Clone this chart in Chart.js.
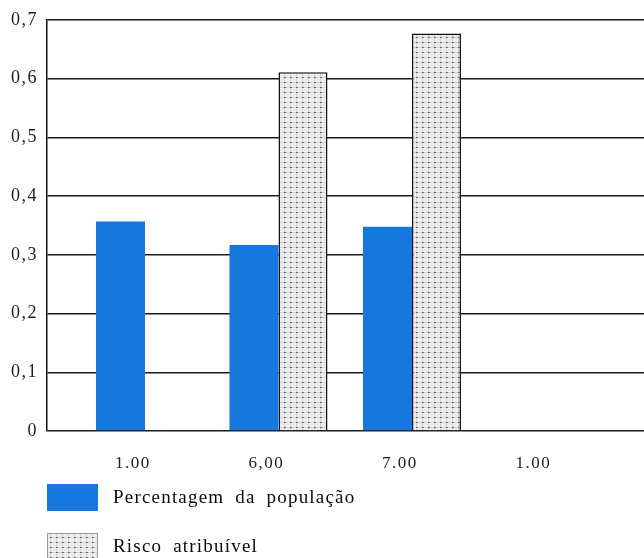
<!DOCTYPE html>
<html>
<head>
<meta charset="utf-8">
<script src="https://cdn.jsdelivr.net/npm/chart.js@4.4.0/dist/chart.umd.min.js"></script>
<style>
  html, body { margin: 0; padding: 0; background: #ffffff; }
  #wrap { width: 644px; height: 558px; position: relative; }
</style>
</head>
<body>
<div id="wrap"><canvas id="chart" width="644" height="558"></canvas></div>
<script>
// Group positions along the x axis and their printed labels
const groupPositions = [1, 2, 3, 4];
const groupLabels = ['1.00', '6,00', '7.00', '1.00'];

// Series values (proportions)
const populacao = [0.357, 0.317, 0.348, null];
const risco = [null, 0.611, 0.677, null];

const seriesNames = ['Percentagem da população', 'Risco atribuível'];

// Y axis ticks
const yTicks = [0, 0.1, 0.2, 0.3, 0.4, 0.5, 0.6, 0.7];

const SERIF = '"Liberation Serif", "Times New Roman", serif';
const BLUE = '#1677dc';

// Dotted grey fill used for the "Risco atribuível" bars
function makeDotPattern() {
  const pc = document.createElement('canvas');
  pc.width = 6; pc.height = 5;
  const p = pc.getContext('2d');
  p.fillStyle = '#ededed';
  p.fillRect(0, 0, 6, 5);
  p.fillStyle = '#d2d2d2';
  p.fillRect(0, 2, 6, 1);
  p.fillRect(2, 0, 1, 5);
  p.fillStyle = '#6a6a6a';
  p.fillRect(2, 2, 2, 1);
  return document.getElementById('chart').getContext('2d').createPattern(pc, 'repeat');
}
const dotPattern = makeDotPattern();

// Slightly spaced lettering for the axis labels
const spacedText = {
  id: 'spacedText',
  beforeDraw(chart) { chart.ctx.letterSpacing = '1.5px'; },
  afterDraw(chart) { chart.ctx.letterSpacing = '0px'; }
};

// Legend drawn as a vertical list under the axis labels
const stackedLegend = {
  id: 'stackedLegend',
  afterDraw(chart) {
    const ctx = chart.ctx;
    ctx.save();
    chart.data.datasets.forEach((ds, i) => {
      const x = 47, y = 484 + i * 49, w = 51, h = 27;
      ctx.fillStyle = ds.backgroundColor;
      ctx.fillRect(x, y, w, h);
      if (ds.borderWidth) {
        ctx.strokeStyle = '#9a9a9a';
        ctx.lineWidth = 1;
        ctx.strokeRect(x + 0.5, y + 0.5, w - 1, h - 1);
      }
      ctx.fillStyle = '#0a0a0a';
      ctx.font = '19px ' + SERIF;
      ctx.letterSpacing = '1.2px';
      ctx.wordSpacing = '5px';
      ctx.textBaseline = 'middle';
      ctx.textAlign = 'left';
      ctx.fillText(ds.label, 113, y + h / 2 + 1);
    });
    ctx.restore();
  }
};

new Chart(document.getElementById('chart'), {
  type: 'bar',
  data: {
    datasets: [
      {
        label: seriesNames[0],
        data: groupPositions.map((x, i) => ({ x: x, y: populacao[i] })),
        backgroundColor: BLUE,
        borderWidth: 0
      },
      {
        label: seriesNames[1],
        data: groupPositions.map((x, i) => ({ x: x, y: risco[i] })),
        backgroundColor: dotPattern,
        borderColor: '#111111',
        borderWidth: 1.5
      }
    ]
  },
  options: {
    responsive: false,
    animation: false,
    events: [],
    datasets: {
      bar: { categoryPercentage: 0.734, barPercentage: 1.0, grouped: true }
    },
    layout: { padding: { top: 20, right: 0, bottom: 82, left: 0 } },
    plugins: {
      legend: { display: false },
      tooltip: { enabled: false }
    },
    scales: {
      x: {
        type: 'linear',
        min: 0.266,
        max: 4.738,
        offset: false,
        grid: { display: false, offset: false },
        border: { display: false },
        afterBuildTicks(axis) {
          axis.ticks = groupPositions.map(v => ({ value: v }));
        },
        afterFit(axis) { axis.height = 45; },
        ticks: {
          autoSkip: false,
          maxRotation: 0,
          padding: 14,
          labelOffset: -12,
          color: '#1e1e1e',
          font: { family: SERIF, size: 17 },
          callback: (v, i) => groupLabels[i]
        }
      },
      y: {
        min: 0,
        max: 0.7,
        z: 1,
        afterBuildTicks(axis) {
          axis.ticks = yTicks.map(v => ({ value: v }));
        },
        afterFit(axis) { axis.width = 47; },
        grid: {
          color: '#1a1a1a',
          lineWidth: 1.5,
          drawTicks: false
        },
        border: { display: true, color: '#111111', width: 1.5 },
        ticks: {
          padding: 9,
          color: '#1e1e1e',
          font: { family: SERIF, size: 18 },
          callback: v => (v === 0 ? '0' : v.toFixed(1).replace('.', ','))
        }
      }
    }
  },
  plugins: [spacedText, stackedLegend]
});
</script>
</body>
</html>
